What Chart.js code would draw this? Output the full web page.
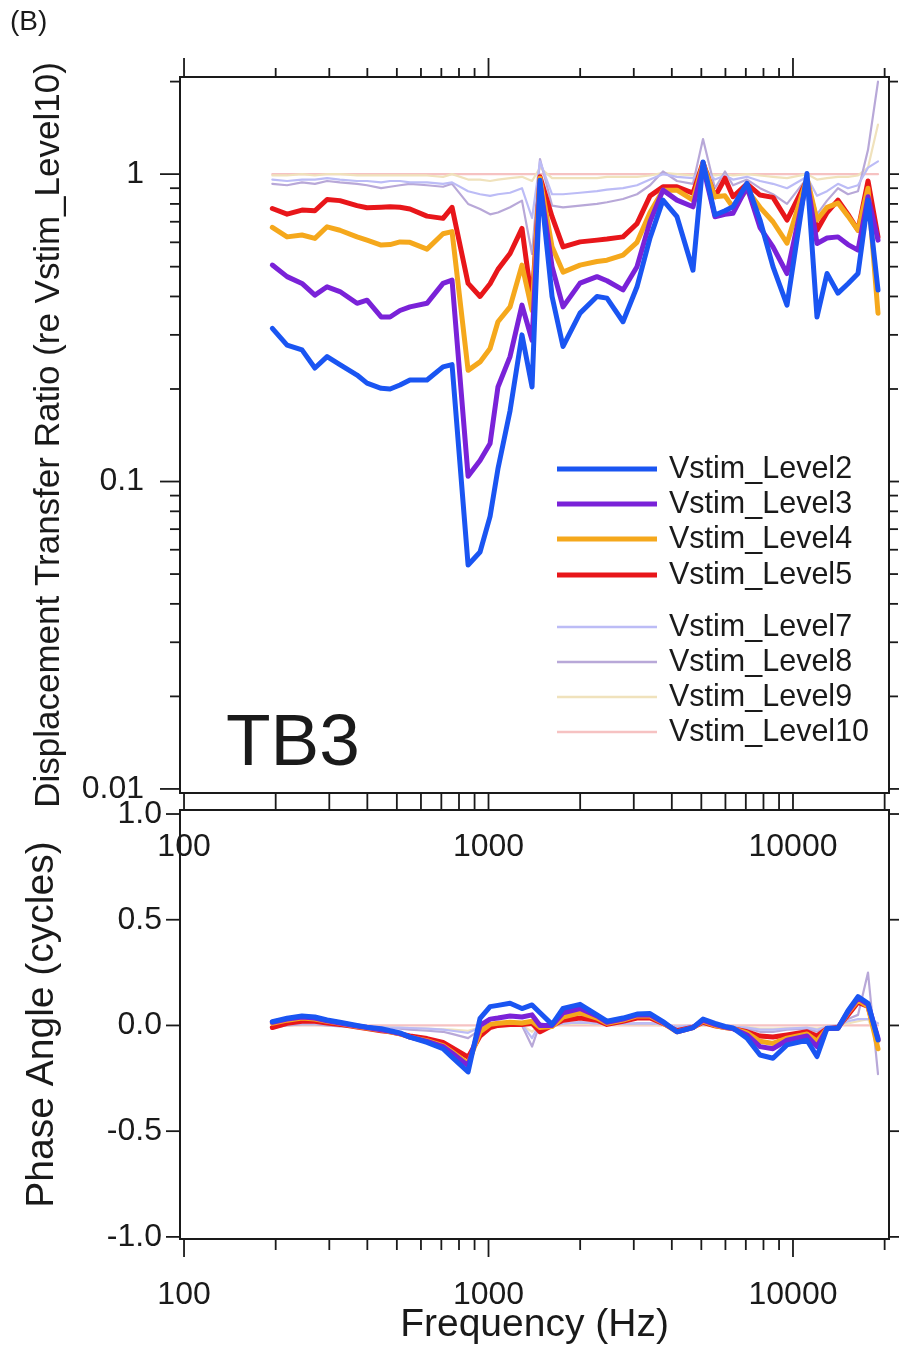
<!DOCTYPE html>
<html><head><meta charset="utf-8">
<script src="https://cdn.jsdelivr.net/npm/chart.js@4.4.1/dist/chart.umd.min.js"></script>
<style>
html,body{margin:0;padding:0;background:#fff;}
#wrap{position:relative;width:899px;height:1349px;overflow:hidden;background:#fff;}
canvas{position:absolute;left:0;top:0;}
.lbl{position:absolute;font-family:'Liberation Sans',Arial,Helvetica,sans-serif;color:#1a1a1a;white-space:nowrap;line-height:1;}
</style></head><body>
<div id="wrap">
<canvas id="bot" width="899" height="1349"></canvas>
<canvas id="top" width="899" height="1349"></canvas>
<div class="lbl" style="left:10px;top:7px;font-size:28px;">(B)</div>
<div class="lbl" style="left:226px;top:703px;font-size:73px;">TB3</div>
</div>
<script>
// ---------- data ----------
const freqHz = [195,218,244,269,295,325,370,399,444,475,512,552,628,709,759,857,938,1012,1074,1177,1288,1390,1476,1617,1757,1998,2271,2449,2765,3074,3392,3741,4159,4694,5064,5543,5980,6353,7063,7793,8596,9558,11117,11991,12936,14053,15157,16350,17636,19021];

const seriesNames = ['Vstim_Level2','Vstim_Level3','Vstim_Level4','Vstim_Level5','Vstim_Level7','Vstim_Level8','Vstim_Level9','Vstim_Level10'];

const mag_L2 = [0.315,0.278,0.268,0.234,0.255,0.24,0.222,0.209,0.201,0.200, 0.206,0.214,0.214,0.236,0.24,0.0535,0.059,0.077,0.11,0.17, 0.30,0.203,0.956,0.40,0.275,0.353,0.40,0.395,0.331,0.43, 0.62,0.823,0.727,0.487,1.096,0.736,0.76,0.783,0.933,0.709, 0.50,0.375,1.005,0.343,0.475,0.41,0.44,0.475,0.823,0.42];
const mag_L3 = [0.506,0.464,0.441,0.404,0.43,0.415,0.38,0.389,0.343,0.343, 0.36,0.37,0.38,0.441,0.452,0.104,0.117,0.133,0.203,0.255, 0.375,0.288,0.935,0.50,0.37,0.442,0.464,0.45,0.42,0.50, 0.70,0.887,0.823,0.783,1.06,0.727,0.74,0.746,0.909,0.67, 0.58,0.475,0.956,0.595,0.62,0.625,0.59,0.566,0.844,0.61];
const mag_L4 = [0.671,0.625,0.634,0.618,0.674,0.657,0.625,0.61,0.588,0.59, 0.602,0.60,0.57,0.64,0.65,0.23,0.245,0.271,0.331,0.37, 0.506,0.36,0.97,0.58,0.48,0.506,0.52,0.525,0.545,0.60, 0.75,0.887,0.887,0.823,1.08,0.844,0.85,0.78,0.89,0.78, 0.70,0.596,0.97,0.709,0.78,0.805,0.73,0.657,0.9,0.353];
const mag_L5 = [0.773,0.741,0.764,0.76,0.827,0.82,0.79,0.777,0.78,0.783, 0.78,0.77,0.73,0.718,0.78,0.441,0.40,0.44,0.49,0.552, 0.666,0.38,0.98,0.727,0.58,0.602,0.61,0.615,0.625,0.69, 0.85,0.909,0.909,0.867,1.09,0.844,0.97,0.844,0.93,0.855, 0.84,0.709,0.956,0.657,0.75,0.823,0.74,0.657,0.95,0.625];
const mag_L7 = [0.96,0.95,0.96,0.96,0.97,0.96,0.95,0.95,0.94,0.95, 0.95,0.94,0.94,0.93,0.94,0.88,0.86,0.85,0.86,0.87, 0.90,0.72,1.10,0.86,0.86,0.87,0.88,0.89,0.90,0.92, 0.96,1.0,0.98,0.97,1.05,0.96,0.99,0.96,0.98,0.95, 0.93,0.90,0.98,0.85,0.88,0.93,0.90,0.92,1.05,1.1];
const mag_L8 = [0.93,0.92,0.94,0.93,0.95,0.94,0.93,0.92,0.90,0.91, 0.92,0.93,0.92,0.91,0.93,0.80,0.77,0.74,0.75,0.78, 0.82,0.55,1.12,0.79,0.78,0.79,0.80,0.81,0.83,0.86, 0.92,1.02,0.95,0.93,1.30,0.90,1.02,0.92,0.96,0.90, 0.86,0.80,0.97,0.74,0.82,0.90,0.86,0.88,1.2,2.0];
const mag_L9 = [0.99,0.99,1.0,0.99,1.0,1.0,0.99,0.99,0.99,0.99, 0.99,0.99,0.99,0.98,1.0,0.96,0.96,0.95,0.96,0.97, 0.98,0.95,1.05,0.97,0.97,0.97,0.97,0.98,0.98,0.98, 0.99,1.01,1.0,0.99,1.03,0.99,1.0,0.99,1.0,0.99, 0.98,0.97,1.0,0.96,0.97,0.98,0.98,0.99,1.05,1.45];
const mag_L10 = [1,1,1,1,1,1,1,1,1,1, 1,1,1,1,1,1,1,1,1,1, 1,1,1,1,1,1,1,1,1,1, 1,1,1,1,1,1,1,1,1,1, 1,1,1,1,1,1,1,1,1,1];

const ph_L2 = [0.018,0.034,0.045,0.04,0.026,0.015,0.0,-0.008,-0.015,-0.025, -0.035,-0.055,-0.08,-0.11,-0.15,-0.22,0.034,0.089,0.095,0.105, 0.08,0.097,0.06,0.005,0.081,0.10,0.05,0.02,0.035,0.054, 0.056,0.018,-0.03,-0.01,0.03,0.01,-0.005,-0.012,-0.06,-0.14, -0.155,-0.092,-0.07,-0.147,-0.013,-0.013,0.07,0.136,0.105,-0.068];
const ph_L3 = [0.015,0.03,0.04,0.035,0.022,0.012,-0.003,-0.01,-0.02,-0.028, -0.038,-0.055,-0.075,-0.1,-0.13,-0.19,0.0,0.03,0.035,0.045, 0.04,0.05,0.0,0.0,0.06,0.08,0.045,0.015,0.03,0.05, 0.05,0.015,-0.03,-0.01,0.025,0.005,-0.008,-0.015,-0.045,-0.1, -0.11,-0.07,-0.05,-0.1,-0.015,-0.013,0.065,0.13,0.1,-0.06];
const ph_L4 = [0.01,0.025,0.035,0.03,0.02,0.01,-0.005,-0.012,-0.022,-0.03, -0.04,-0.055,-0.072,-0.095,-0.125,-0.18,-0.03,0.005,0.01,0.015, 0.012,0.02,-0.01,-0.005,0.04,0.06,0.035,0.01,0.025,0.045, 0.045,0.012,-0.03,-0.01,0.02,0.0,-0.01,-0.015,-0.035,-0.075, -0.085,-0.06,-0.04,-0.075,-0.015,-0.013,0.06,0.12,0.09,-0.11];
const ph_L5 = [-0.01,0.01,0.02,0.02,0.012,0.005,-0.008,-0.015,-0.025,-0.03, -0.04,-0.05,-0.062,-0.08,-0.105,-0.15,-0.05,-0.01,0.0,0.005, 0.005,0.01,-0.03,0.0,0.025,0.035,0.025,0.005,0.02,0.035, 0.035,0.01,-0.025,-0.008,0.015,-0.002,-0.01,-0.015,-0.03,-0.05, -0.055,-0.045,-0.03,-0.05,-0.015,-0.01,0.05,0.11,0.09,-0.07];
const ph_L7 = [0.0,0.005,0.01,0.01,0.005,0.0,-0.003,-0.005,-0.008,-0.01, -0.01,-0.012,-0.015,-0.02,-0.025,-0.035,-0.01,0.0,0.005,0.008, 0.005,-0.06,0.01,0.0,0.01,0.015,0.01,0.005,0.008,0.01, 0.01,0.005,-0.005,0.0,0.005,0.0,-0.003,-0.005,-0.01,-0.02, -0.02,-0.015,-0.01,-0.02,-0.005,0.0,0.02,0.03,0.03,0.01];
const ph_L8 = [-0.01,0.0,0.005,0.005,0.0,-0.005,-0.008,-0.01,-0.012,-0.012, -0.015,-0.02,-0.025,-0.03,-0.04,-0.06,-0.02,0.0,0.005,0.01, 0.0,-0.1,0.01,-0.005,0.01,0.015,0.01,0.005,0.008,0.01, 0.01,0.005,-0.01,-0.005,0.005,-0.002,-0.005,-0.008,-0.015,-0.03, -0.03,-0.02,-0.015,-0.03,-0.01,0.0,0.03,0.05,0.25,-0.23];
const ph_L9 = [-0.005,0.0,0.003,0.003,0.0,-0.003,-0.005,-0.006,-0.008,-0.008, -0.01,-0.012,-0.015,-0.018,-0.02,-0.025,-0.01,-0.005,0.0,0.0, 0.0,-0.03,0.005,0.0,0.005,0.008,0.005,0.003,0.005,0.005, 0.005,0.0,-0.005,-0.003,0.0,-0.002,-0.003,-0.005,-0.008,-0.015, -0.015,-0.012,-0.01,-0.015,-0.005,0.0,0.01,0.02,0.03,-0.08];
const ph_L10 = [0,0,0,0,0,0,0,0,0,0, 0,0,0,0,0,0,0,0,0,0, 0,0,0,0,0,0,0,0,0,0, 0,0,0,0,0,0,0,0,0,0, 0,0,0,0,0,0,0,0,0,0];

// tick labels
const xTickValues = [100, 1000, 10000];
const xTickLabels = ['100', '1000', '10000'];
const magTickValues = [0.01, 0.1, 1];
const magTickLabels = ['0.01', '0.1', '1'];
const phaseTickValues = [-1, -0.5, 0, 0.5, 1];
const phaseTickLabels = ['-1.0', '-0.5', '0.0', '0.5', '1.0'];

// ---------- styling ----------
const FONT = "'Liberation Sans', Arial, Helvetica, sans-serif";
const INK = '#1a1a1a';
const colors = ['#1a55f2', '#7a22d8', '#f5a81c', '#e8161a', '#bcbcf6', '#b8a8d8', '#f0e2bc', '#f6c2c2'];
const widths = [5, 5, 5, 5, 2.2, 2.2, 2.2, 2.2];
Chart.defaults.font.family = FONT;
Chart.defaults.color = INK;

const magSeries = [mag_L2, mag_L3, mag_L4, mag_L5, mag_L7, mag_L8, mag_L9, mag_L10];
const phSeries = [ph_L2, ph_L3, ph_L4, ph_L5, ph_L7, ph_L8, ph_L9, ph_L10];

function buildDatasets(series) {
  return seriesNames.map((name, i) => ({
    label: name,
    data: freqHz.map((f, j) => ({ x: f, y: series[i][j] })),
    borderColor: colors[i],
    backgroundColor: colors[i],
    borderWidth: widths[i],
    pointRadius: 0,
    tension: 0,
    fill: false,
    borderJoinStyle: 'round',
    borderCapStyle: 'round'
  }));
}

// log minor tick positions (axis decoration)
const decadesX = [100, 1000, 10000];
const decadesY = [0.01, 0.1, 1];
const mult = [1, 2, 3, 4, 5, 6, 7, 8, 9];
function logTicks(decades, lo, hi) {
  const out = [];
  decades.forEach(d => mult.forEach(m => { const v = d * m; if (v >= lo && v <= hi) out.push(+v.toPrecision(6)); }));
  return out;
}
const xAll = logTicks(decadesX, 100, 20000);
const yAll = logTicks(decadesY, 0.01, 2);

function framePlugin(marks) {
  return {
    id: 'frameTicks',
    afterDatasetsDraw(chart) {
      const { ctx, chartArea: a, scales } = chart;
      ctx.save();
      ctx.strokeStyle = INK;
      ctx.lineWidth = 2;
      ctx.strokeRect(a.left, a.top, a.right - a.left, a.bottom - a.top);
      ctx.lineWidth = 1.8;
      marks.forEach(m => {
        const sc = scales[m.axis];
        m.values.forEach(v => {
          const p = sc.getPixelForValue(v);
          const len = m.major.indexOf(v) >= 0 ? m.lenMajor : m.lenMinor;
          ctx.beginPath();
          if (m.side === 'left') { ctx.moveTo(a.left, p); ctx.lineTo(a.left - len, p); }
          if (m.side === 'right') { ctx.moveTo(a.right, p); ctx.lineTo(a.right + len, p); }
          if (m.side === 'top') { ctx.moveTo(p, a.top); ctx.lineTo(p, a.top - len); }
          if (m.side === 'bottom') { ctx.moveTo(p, a.bottom); ctx.lineTo(p, a.bottom + len); }
          ctx.stroke();
        });
      });
      ctx.restore();
    }
  };
}

const legendPlugin = {
  id: 'sideLegend',
  afterDraw(chart) {
    const { ctx } = chart;
    const rowsY = [469, 504, 539, 575, 627, 662, 697, 732];
    ctx.save();
    ctx.font = '30.5px ' + FONT;
    ctx.textBaseline = 'middle';
    ctx.textAlign = 'left';
    chart.data.datasets.forEach((ds, i) => {
      const y = rowsY[i];
      ctx.strokeStyle = ds.borderColor;
      ctx.lineWidth = i < 4 ? 5 : 2.5;
      ctx.beginPath(); ctx.moveTo(557, y); ctx.lineTo(657, y); ctx.stroke();
      ctx.fillStyle = INK;
      ctx.fillText(ds.label, 669, y + 1);
    });
    ctx.restore();
  }
};

const X_MIN = 97.0, X_MAX = 20670;

// ---------- top chart: magnitude ----------
new Chart(document.getElementById('top'), {
  type: 'line',
  data: { datasets: buildDatasets(magSeries) },
  options: {
    responsive: false, animation: false, devicePixelRatio: 1,
    layout: { padding: { top: 77, right: 10, left: 0, bottom: 0 } },
    plugins: { legend: { display: false }, tooltip: { enabled: false } },
    scales: {
      x: {
        type: 'logarithmic', min: X_MIN, max: X_MAX, position: 'bottom',
        afterFit: s => { s.height = 1349 - 793; },
        afterBuildTicks: s => { s.ticks = xTickValues.map(v => ({ value: v })); },
        ticks: { callback: (v, i) => xTickLabels[i], padding: 35, font: { size: 32 }, color: INK, maxRotation: 0, autoSkip: false },
        grid: { display: false, drawTicks: false }, border: { display: false }
      },
      y: {
        type: 'logarithmic', min: 0.0097, max: 2.07, position: 'left',
        afterFit: s => { s.width = 180; },
        afterBuildTicks: s => { s.ticks = magTickValues.map(v => ({ value: v })); },
        ticks: { callback: (v, i) => magTickLabels[i], padding: 36, font: { size: 32 }, color: INK, autoSkip: false },
        grid: { display: false, drawTicks: false }, border: { display: false },
        title: { display: true, text: 'Displacement Transfer Ratio (re Vstim_Level10)', font: { size: 35 }, color: INK, padding: { top: 28, bottom: 0 } }
      }
    }
  },
  plugins: [framePlugin([
    { axis: 'y', side: 'left', values: yAll, major: decadesY, lenMajor: 20, lenMinor: 10 },
    { axis: 'y', side: 'right', values: yAll, major: decadesY, lenMajor: 12, lenMinor: 9 },
    { axis: 'x', side: 'top', values: xAll, major: decadesX, lenMajor: 19, lenMinor: 9 },
    { axis: 'x', side: 'bottom', values: xAll, major: decadesX, lenMajor: 16, lenMinor: 16 }
  ]), legendPlugin]
});

// ---------- bottom chart: phase ----------
new Chart(document.getElementById('bot'), {
  type: 'line',
  data: { datasets: buildDatasets(phSeries) },
  options: {
    responsive: false, animation: false, devicePixelRatio: 1,
    layout: { padding: { top: 810, right: 10, left: 0, bottom: 0 } },
    plugins: { legend: { display: false }, tooltip: { enabled: false } },
    scales: {
      x: {
        type: 'logarithmic', min: X_MIN, max: X_MAX, position: 'bottom',
        afterFit: s => { s.height = 1349 - 1239; },
        afterBuildTicks: s => { s.ticks = xTickValues.map(v => ({ value: v })); },
        ticks: { callback: (v, i) => xTickLabels[i], padding: 37, font: { size: 32 }, color: INK, maxRotation: 0, autoSkip: false },
        grid: { display: false, drawTicks: false }, border: { display: false },
        title: { display: true, text: 'Frequency (Hz)', font: { size: 39, lineHeight: 1.2 }, color: INK, padding: { top: 0, bottom: 0 } }
      },
      y: {
        type: 'linear', min: -1.01, max: 1.019, position: 'left',
        afterFit: s => { s.width = 180; },
        afterBuildTicks: s => { s.ticks = phaseTickValues.map(v => ({ value: v })); },
        ticks: { callback: (v, i) => phaseTickLabels[i], padding: 18, font: { size: 32 }, color: INK, autoSkip: false },
        grid: { display: false, drawTicks: false }, border: { display: false },
        title: { display: true, text: 'Phase Angle (cycles)', font: { size: 39 }, color: INK, padding: { top: 19, bottom: 0 } }
      }
    }
  },
  plugins: [framePlugin([
    { axis: 'y', side: 'left', values: phaseTickValues, major: phaseTickValues, lenMajor: 14, lenMinor: 14 },
    { axis: 'y', side: 'right', values: phaseTickValues, major: phaseTickValues, lenMajor: 10, lenMinor: 10 },
    { axis: 'x', side: 'bottom', values: xAll, major: decadesX, lenMajor: 18, lenMinor: 11 }
  ])]
});
</script>
</body></html>
